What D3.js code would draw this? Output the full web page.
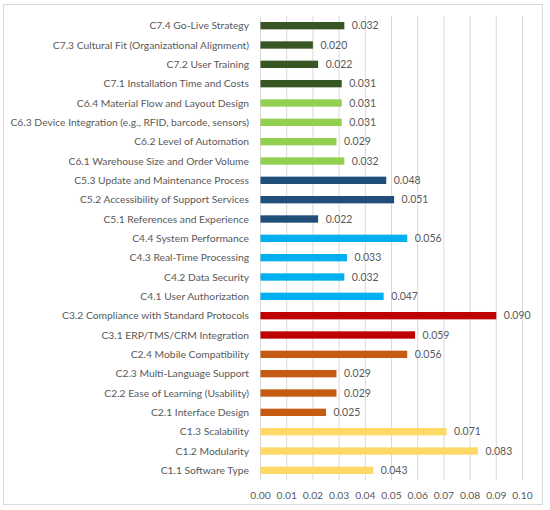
<!DOCTYPE html>
<html lang="en">
  <head>
    <meta charset="UTF-8" />
    <title>Criteria weights</title>
    <script src="https://cdn.jsdelivr.net/npm/d3@7"></script>
    <style>
      body { margin: 0; background: #fff; }
      text { font-family: Lato, "Open Sans", sans-serif; fill: #595959; }
    </style>
  </head>
  <body>
    <div id="chart"></div>
    <script>
      // criteria, top to bottom
      let labels = [
        "C7.4 Go-Live Strategy",
        "C7.3 Cultural Fit (Organizational Alignment)",
        "C7.2 User Training",
        "C7.1 Installation Time and Costs",
        "C6.4 Material Flow and Layout Design",
        "C6.3 Device Integration (e.g., RFID, barcode, sensors)",
        "C6.2 Level of Automation",
        "C6.1 Warehouse Size and Order Volume",
        "C5.3 Update and Maintenance Process",
        "C5.2 Accessibility of Support Services",
        "C5.1 References and Experience",
        "C4.4 System Performance",
        "C4.3 Real-Time Processing",
        "C4.2 Data Security",
        "C4.1 User Authorization",
        "C3.2 Compliance with Standard Protocols",
        "C3.1 ERP/TMS/CRM Integration",
        "C2.4 Mobile Compatibility",
        "C2.3 Multi-Language Support",
        "C2.2 Ease of Learning (Usability)",
        "C2.1 Interface Design",
        "C1.3 Scalability",
        "C1.2 Modularity",
        "C1.1 Software Type",
      ];
      let weights = [
        0.032, 0.02, 0.022, 0.031, 0.031, 0.031, 0.029, 0.032, 0.048, 0.051,
        0.022, 0.056, 0.033, 0.032, 0.047, 0.09, 0.059, 0.056, 0.029, 0.029,
        0.025, 0.071, 0.083, 0.043,
      ];
      let groups = ["C7", "C6", "C5", "C4", "C3", "C2", "C1"];
      let groupColors = [
        "#375623", "#92D050", "#1F4E79", "#00B0F0", "#C00000", "#C55A11", "#FFD966",
      ];
      let xTicks = [0, 0.01, 0.02, 0.03, 0.04, 0.05, 0.06, 0.07, 0.08, 0.09, 0.1];

      let width = 550;
      let height = 510;
      let margin = { top: 16, right: 28, bottom: 30, left: 260 };

      let svg = d3
        .select("#chart")
        .append("svg")
        .attr("width", width)
        .attr("height", height);

      // outer frame
      svg
        .append("rect")
        .attr("x", 3.5)
        .attr("y", 4.5)
        .attr("width", 539)
        .attr("height", 500)
        .attr("fill", "none")
        .attr("stroke", "#d9d9d9");

      let x = d3.scaleLinear().domain([0, 0.1]).range([margin.left, 522]);
      let y = d3
        .scaleBand()
        .domain(labels)
        .range([margin.top, 480])
        .paddingInner(0.62)
        .paddingOuter(0.31);

      let color = d3.scaleOrdinal().domain(groups).range(groupColors);

      // gridlines
      svg
        .append("g")
        .selectAll("line")
        .data(xTicks)
        .enter()
        .append("line")
        .attr("x1", (d) => x(d) + 0.5)
        .attr("x2", (d) => x(d) + 0.5)
        .attr("y1", margin.top)
        .attr("y2", 480)
        .attr("stroke", "#d9d9d9");

      // bars
      svg
        .append("g")
        .selectAll("rect")
        .data(labels)
        .enter()
        .append("rect")
        .attr("x", x(0) + 0.5)
        .attr("y", (d) => y(d))
        .attr("height", y.bandwidth())
        .attr("width", (d, i) => x(weights[i]) - x(0))
        .attr("fill", (d) => color(d.slice(0, 2)));

      // value labels
      svg
        .append("g")
        .selectAll("text")
        .data(labels)
        .enter()
        .append("text")
        .attr("x", (d, i) => x(weights[i]) + 8)
        .attr("y", (d) => y(d) + y.bandwidth() / 2)
        .attr("dy", "0.35em")
        .attr("font-size", "10.5px")
        .text((d, i) => d3.format(".3f")(weights[i]));

      // category labels
      svg
        .append("g")
        .selectAll("text")
        .data(labels)
        .enter()
        .append("text")
        .attr("x", 249)
        .attr("y", (d) => y(d) + y.bandwidth() / 2)
        .attr("dy", "0.35em")
        .attr("text-anchor", "end")
        .attr("font-size", "10.3px")
        .text((d) => d);

      // x axis
      let xAxis = d3
        .axisBottom(x)
        .tickValues(xTicks)
        .tickFormat(d3.format(".2f"))
        .tickSize(0)
        .tickPadding(8);

      let axisG = svg
        .append("g")
        .attr("transform", "translate(0,484)")
        .call(xAxis);
      axisG.select(".domain").remove();
      axisG
        .selectAll("text")
        .attr("font-size", "10.3px")
        .attr("font-family", "Lato, 'Open Sans', sans-serif")
        .attr("fill", "#595959");
    </script>
  </body>
</html>
